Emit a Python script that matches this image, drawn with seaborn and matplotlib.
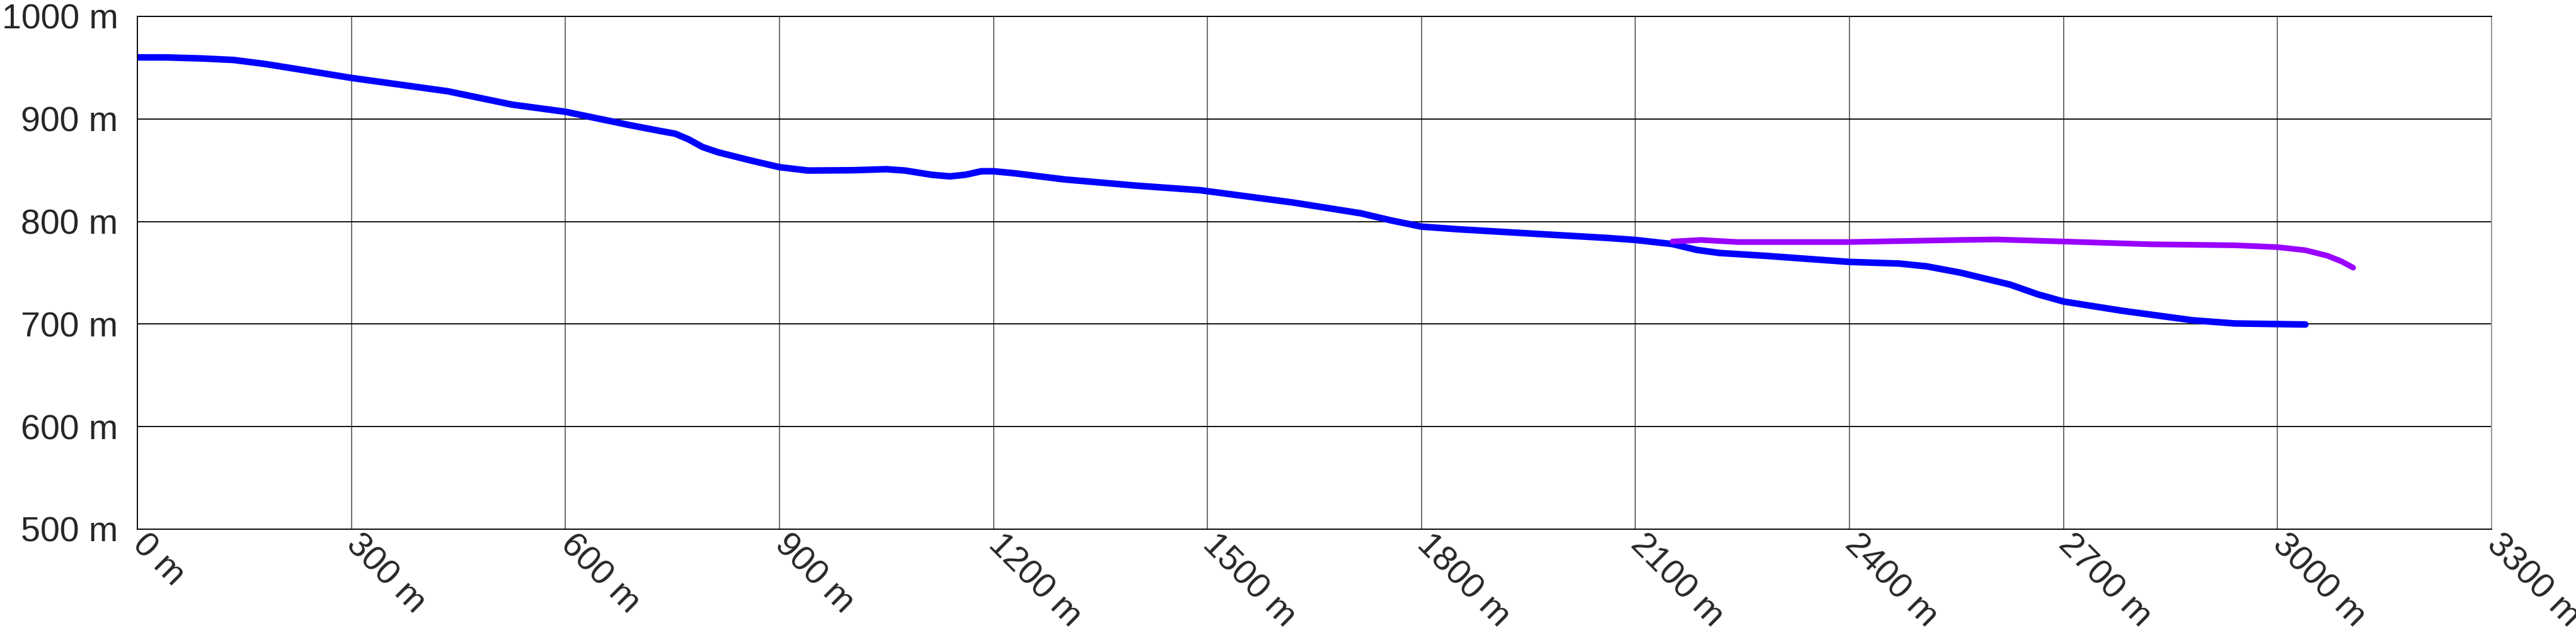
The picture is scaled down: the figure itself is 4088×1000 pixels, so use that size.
import matplotlib
matplotlib.use('Agg')
import pandas as pd
import matplotlib.pyplot as plt
import matplotlib.transforms as mtransforms
import seaborn as sns

# elevation profile, values
blue_dist = [0, 40, 90, 135, 180, 225, 300, 435, 525, 600, 690, 735, 754, 773, 792,
             814, 861, 900, 940, 1003, 1050, 1076, 1113, 1139, 1161, 1183, 1200,
             1230, 1300, 1400, 1490, 1620, 1715, 1758, 1800, 1850, 1960, 2060, 2100,
             2152, 2186, 2218, 2281, 2400, 2470, 2508, 2555, 2625, 2664, 2700, 2782,
             2881, 2940, 3039]
blue_elev = [960, 960, 959, 957.5, 953.5, 948.5, 940, 927, 914, 907, 894, 888, 885.6,
             880, 872.7, 867.5, 859.3, 853, 849.7, 850, 851, 849.7, 845.6, 844, 845.6,
             849, 849, 847, 841, 835, 830.5, 818.5, 808, 801, 795, 792.5, 788, 784,
             782, 778, 772.3, 769.3, 766.6, 760.6, 759, 756.3, 750.2, 738.5, 729, 722,
             713, 703.7, 700.6, 699.6]

purple_dist = [2152, 2192, 2243, 2400, 2555, 2605, 2700, 2822, 2940, 3000, 3039, 3070,
               3090, 3106]
purple_elev = [780.5, 782, 780, 780, 782, 782.5, 780.5, 777.8, 776.8, 775, 772, 766.6,
               761, 755]

x_ticks = list(range(0, 3301, 300))
y_ticks = list(range(500, 1001, 100))

sns.set_style('white')
plt.rcParams['font.family'] = ['Liberation Sans', 'DejaVu Sans']

fig = plt.figure(figsize=(40.88, 10), dpi=100)
ax = fig.add_axes([218 / 4088, 0.16, (3954 - 218) / 4088, 0.814])

blue_df = pd.DataFrame({'distance': blue_dist, 'elevation': blue_elev})
purple_df = pd.DataFrame({'distance': purple_dist, 'elevation': purple_elev})

sns.lineplot(data=blue_df, x='distance', y='elevation', color='#0000ff', lw=7.5,
             sort=False, ax=ax, solid_capstyle='round', solid_joinstyle='round')
sns.lineplot(data=purple_df, x='distance', y='elevation', color='#9900ff', lw=6.5,
             sort=False, ax=ax, solid_capstyle='round', solid_joinstyle='round')

ax.set_xlim(0, 3300)
ax.set_ylim(500, 1000)
ax.set_xticks(x_ticks)
ax.set_xticklabels([f'{t} m' for t in x_ticks], rotation=-45, ha='left', va='center',
                   rotation_mode='anchor')
ax.set_yticks(y_ticks)
ax.set_yticklabels([f'{t} m' for t in y_ticks])
ax.set_xlabel('')
ax.set_ylabel('')

# y labels sit a little above their grid lines in the original
up = mtransforms.ScaledTranslation(0, 4 / 100, fig.dpi_scale_trans)
for lab in ax.get_yticklabels():
    lab.set_transform(lab.get_transform() + up)

ax.yaxis.grid(True, color='black', lw=1.3)
ax.xaxis.grid(True, color='#555555', lw=1.2)
ax.set_axisbelow(True)

for side in ['left', 'bottom', 'top']:
    ax.spines[side].set_color('black')
    ax.spines[side].set_linewidth(1.3)
ax.spines['right'].set_color('#999999')
ax.spines['right'].set_linewidth(1.5)

ax.tick_params(axis='y', length=0, labelsize=40, pad=22)
ax.tick_params(axis='x', length=0, labelsize=40, pad=12)

fig.savefig('out.png', dpi=100)
